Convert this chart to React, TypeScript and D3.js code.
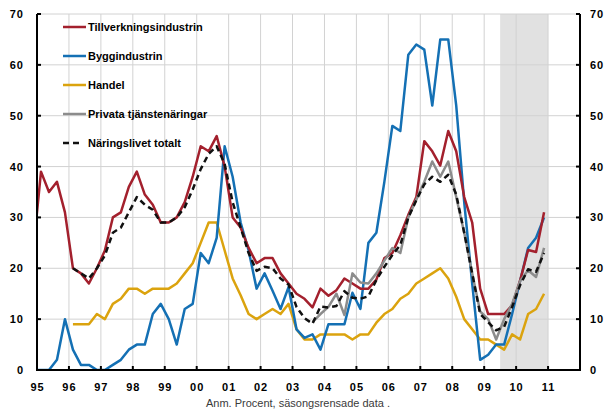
import React from 'react';
import * as d3 from 'd3';

// Kvartalsvärden (procent), läses per kvartal från första kvartalet i startår
const tillverkning = [
  23,
  39, 35, 37, 31,
  20, 19, 17, 20,
  23.5, 30, 31, 36,
  39, 34.5, 32.5, 29,
  29, 30, 33, 38,
  44, 43, 46, 40,
  30, 28, 24, 21,
  22, 22, 19, 17,
  15, 14, 12.3, 16,
  14.6, 15.7, 18, 17,
  16, 16, 17.8, 22,
  23, 26.5, 30.5, 34,
  45, 43, 40.2, 47,
  43, 34, 29, 16,
  11, 11, 11, 12.7,
  17.6, 23.6, 23.2, 31,
];
const bygg = [
  0,
  0, 0, 2, 10,
  4, 1, 1, 0,
  0, 1, 2, 4,
  5, 5, 11, 13,
  10, 5, 12, 13,
  23, 21, 26, 44,
  38, 29, 23.5, 16,
  19, 15.6, 12, 16.3,
  8, 6.3, 7, 4,
  9, 9, 9, 15.2,
  12, 25, 27, 37,
  48, 47, 62, 64,
  63, 52, 65, 65,
  52, 33, 17, 2,
  3, 5, 5, 11,
  17.5, 24, 26, 30,
];
const handel = [
  9, 9, 9, 11,
  10, 13, 14, 16,
  16, 15, 16, 16,
  16, 17, 19, 21,
  25, 29, 29, 23.5,
  18, 14.7, 11, 10,
  11, 12, 11, 13,
  8, 6, 6, 7,
  7, 7, 7, 6,
  7, 7, 9.3, 11,
  12, 14, 15, 17,
  18, 19, 20, 18,
  14.4, 10, 8, 6,
  6, 5, 4, 7,
  6, 11, 12, 15,
];
const privata = [
  9.4, 11,
  12.4, 15, 10.8, 19,
  17.2, 17, 19, 21.5,
  24, 23, 30, 33.5,
  37, 41, 38, 41,
  34, 27, 19, 11.5,
  10, 6, 10, 13,
  17.5, 19.6, 18.3, 24,
];
const totalt = [
  20, 19, 18, 20,
  22.5, 27, 28, 31,
  34, 32.5, 31.5, 29,
  29, 30, 32, 35.5,
  39.5, 42.5, 44, 40.5,
  33, 28, 23, 19.5,
  20.3, 20, 18, 16.8,
  12.4, 10.2, 9.1, 12.5,
  12.3, 12.6, 15.5, 14.2,
  14, 14.5, 17.7, 20.3,
  22.6, 24.6, 30, 33.4,
  36.5, 38, 37, 38.4,
  34.5, 27, 19, 11,
  9.4, 7.8, 8.5, 12.4,
  16.7, 19.8, 19.3, 23,
];

const seriesNames = [
  'Tillverkningsindustrin',
  'Byggindustrin',
  'Handel',
  'Privata tjänstenäringar',
  'Näringslivet totalt',
];
const seriesValues = [tillverkning, bygg, handel, privata, totalt];
const seriesStart = [1994.75, 1994.75, 1996, 2003.5, 1996];

const yearTicks = d3.range(1995, 2012);
const yearLabels = ['95', '96', '97', '98', '99', '00', '01', '02', '03', '04', '05', '06', '07', '08', '09', '10', '11'];
const valueTicks = [0, 10, 20, 30, 40, 50, 60, 70];
const prognos = [2009.5, 2011];
const note = 'Anm. Procent, säsongsrensade data .';

const colors = ['#a3202d', '#1470b4', '#dba30e', '#8c8c8c', '#111111'];
const font = '"Liberation Sans", Arial, sans-serif';

const App = () => {
  const W = 607;
  const H = 414;
  const left = 37;
  const right = 580;
  const top = 14;
  const bottom = 370;

  const x = d3.scaleLinear().domain([1995, 2012]).range([left, right]);
  const y = d3.scaleLinear().domain([0, 70]).range([bottom, top]);

  const line = d3.line<[number, number]>()
    .x(d => x(d[0]))
    .y(d => y(d[1]));

  const paths = seriesValues.map((vals, k) =>
    line(vals.map((v, i) => [seriesStart[k] + i * 0.25 + 0.125, v] as [number, number]))
  );

  const drawOrder = [2, 1, 0, 3, 4];

  return (
    <svg width={W} height={H} style={{ position: 'absolute', left: 0, top: 0, background: '#fff' }}
      fontFamily={font}>
      <defs>
        <clipPath id="plot">
          <rect x={left} y={top - 5} width={right - left} height={bottom - top + 5} />
        </clipPath>
      </defs>

      {/* prognosområde */}
      <rect x={x(prognos[0])} y={top} width={x(prognos[1]) - x(prognos[0])} height={bottom - top} fill="#e1e1e1" />

      {/* rutnät */}
      {valueTicks.map(v => (
        <line key={'h' + v} x1={left} x2={right} y1={y(v)} y2={y(v)} stroke="#d2d2d2" strokeWidth={1} />
      ))}
      {yearTicks.slice(1).map(t => (
        <line key={'v' + t} x1={x(t)} x2={x(t)} y1={top} y2={bottom} stroke="#d2d2d2" strokeWidth={1} />
      ))}

      {/* serier */}
      <g clipPath="url(#plot)">
        {drawOrder.map(k => (
          <path key={seriesNames[k]} d={paths[k] || ''} fill="none" stroke={colors[k]}
            strokeWidth={2.5} strokeLinejoin="round"
            strokeDasharray={k === 4 ? '6,4' : undefined} />
        ))}
      </g>

      {/* axlar */}
      <line x1={left} x2={left} y1={top} y2={bottom + 1} stroke="#000" strokeWidth={2} />
      <line x1={right} x2={right} y1={top} y2={bottom + 1} stroke="#000" strokeWidth={2} />
      <line x1={left - 1} x2={right + 1} y1={bottom} y2={bottom} stroke="#000" strokeWidth={2} />
      {valueTicks.map(v => (
        <g key={'t' + v}>
          <line x1={left} x2={left + 4} y1={y(v)} y2={y(v)} stroke="#000" strokeWidth={2} />
          <line x1={right - 4} x2={right} y1={y(v)} y2={y(v)} stroke="#000" strokeWidth={2} />
          <text x={24} y={y(v) + 4} textAnchor="end" fontSize={11} fontWeight="bold" letterSpacing={1}>{v}</text>
          <text x={590} y={y(v) + 4} textAnchor="start" fontSize={11} fontWeight="bold" letterSpacing={1}>{v}</text>
        </g>
      ))}
      {yearTicks.map((t, i) => (
        <g key={'x' + t}>
          <line x1={x(t)} x2={x(t)} y1={bottom - 4} y2={bottom} stroke="#000" strokeWidth={2} />
          <text x={x(t) + 0.5} y={391} textAnchor="middle" fontSize={11} fontWeight="bold" letterSpacing={1}>{yearLabels[i]}</text>
        </g>
      ))}

      {/* teckenförklaring */}
      {seriesNames.map((name, k) => {
        const ly = 27 + k * 29;
        return (
          <g key={'l' + k}>
            <line x1={63} x2={k === 4 ? 83 : 86} y1={ly} y2={ly} stroke={colors[k]} strokeWidth={2.5}
              strokeDasharray={k === 4 ? '6,4' : undefined} />
            <text x={88} y={ly + 4} fontSize={11} fontWeight="bold">{name}</text>
          </g>
        );
      })}

      <text x={298} y={407} textAnchor="middle" fontSize={11} fill="#3a3a3a">{note}</text>
    </svg>
  );
};

export default App;
